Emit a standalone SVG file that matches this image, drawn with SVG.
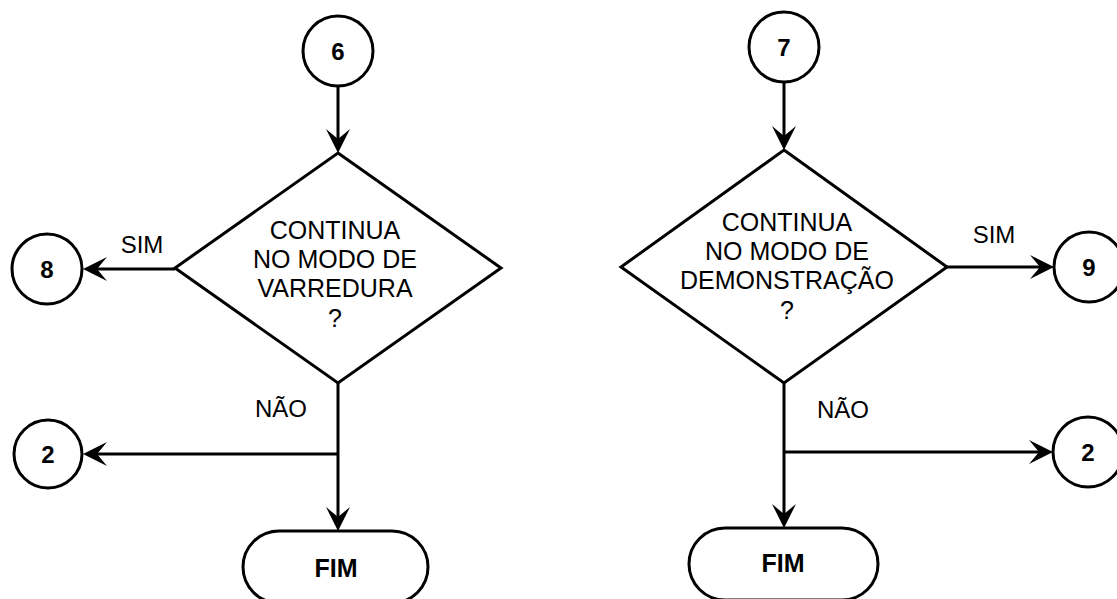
<svg xmlns="http://www.w3.org/2000/svg" width="1117" height="599" viewBox="0 0 1117 599">
  <style>
    .shape { fill: #ffffff; stroke: #000000; stroke-width: 3; }
    .edge { fill: none; stroke: #000000; stroke-width: 3; }
    .num { font-family: "Liberation Sans", Arial, sans-serif; font-size: 24px; font-weight: bold; text-anchor: middle; fill: #000; }
    .term { font-family: "Liberation Sans", Arial, sans-serif; font-size: 25px; font-weight: bold; text-anchor: middle; fill: #000; }
    .cond { font-family: "Liberation Sans", Arial, sans-serif; font-size: 25px; text-anchor: middle; fill: #000; }
    .lbl { font-family: "Liberation Sans", Arial, sans-serif; font-size: 24px; text-anchor: middle; fill: #000; }
  </style>
  <defs>
    <marker id="arrow" markerUnits="userSpaceOnUse" viewBox="0 0 24 24" markerWidth="24" markerHeight="24" refX="10" refY="12" orient="auto">
      <path d="M0,0 L24,12 L0,24 L10,12 Z" fill="#000"/>
    </marker>
  </defs>

  <rect width="1117" height="599" fill="#ffffff"/>

  <!-- connectors -->
  <g id="connectors">
    <path class="edge" d="M338,86 L338,139" marker-end="url(#arrow)"/>
    <path class="edge" d="M175,269 L97,269" marker-end="url(#arrow)"/>
    <path class="edge" d="M338,383 L338,517" marker-end="url(#arrow)"/>
    <path class="edge" d="M338,454 L97,454" marker-end="url(#arrow)"/>
    <text class="lbl" x="142" y="253">SIM</text>
    <text class="lbl" x="281" y="417">NÃO</text>

    <path class="edge" d="M784,82 L784,136" marker-end="url(#arrow)"/>
    <path class="edge" d="M947,267 L1040,267" marker-end="url(#arrow)"/>
    <path class="edge" d="M784,383 L784,514" marker-end="url(#arrow)"/>
    <path class="edge" d="M784,452 L1039,452" marker-end="url(#arrow)"/>
    <text class="lbl" x="994" y="243">SIM</text>
    <text class="lbl" x="843" y="418">NÃO</text>
  </g>

  <!-- left flow -->
  <g id="conn-6">
    <circle class="shape" cx="338" cy="51" r="35"/>
    <text class="num" x="338" y="60">6</text>
  </g>
  <g id="decision-varredura">
    <polygon class="shape" points="338,153 501,268 338,383 175,268"/>
    <text class="cond" x="335" y="239">CONTINUA</text>
    <text class="cond" x="335" y="268">NO MODO DE</text>
    <text class="cond" x="335" y="297">VARREDURA</text>
    <text class="cond" x="335" y="327">?</text>
  </g>
  <g id="conn-8">
    <circle class="shape" cx="47" cy="269" r="35"/>
    <text class="num" x="47" y="278">8</text>
  </g>
  <g id="conn-2-left">
    <circle class="shape" cx="48" cy="454" r="34"/>
    <text class="num" x="48" y="463">2</text>
  </g>
  <g id="end-left">
    <rect class="shape" x="243" y="531" width="185" height="72" rx="36" ry="36"/>
    <text class="term" x="336" y="577">FIM</text>
  </g>

  <!-- right flow -->
  <g id="conn-7">
    <circle class="shape" cx="784" cy="47" r="35"/>
    <text class="num" x="784" y="56">7</text>
  </g>
  <g id="decision-demonstracao">
    <polygon class="shape" points="784,150 947,267 784,383 621,267"/>
    <text class="cond" x="787" y="231">CONTINUA</text>
    <text class="cond" x="787" y="260">NO MODO DE</text>
    <text class="cond" x="787" y="289">DEMONSTRAÇÃO</text>
    <text class="cond" x="787" y="319">?</text>
  </g>
  <g id="conn-9">
    <circle class="shape" cx="1089" cy="267" r="35"/>
    <text class="num" x="1089" y="276">9</text>
  </g>
  <g id="conn-2-right">
    <circle class="shape" cx="1088" cy="452" r="35"/>
    <text class="num" x="1088" y="461">2</text>
  </g>
  <g id="end-right">
    <rect class="shape" x="689" y="528" width="189" height="72" rx="36" ry="36"/>
    <text class="term" x="783" y="572">FIM</text>
  </g>
</svg>
